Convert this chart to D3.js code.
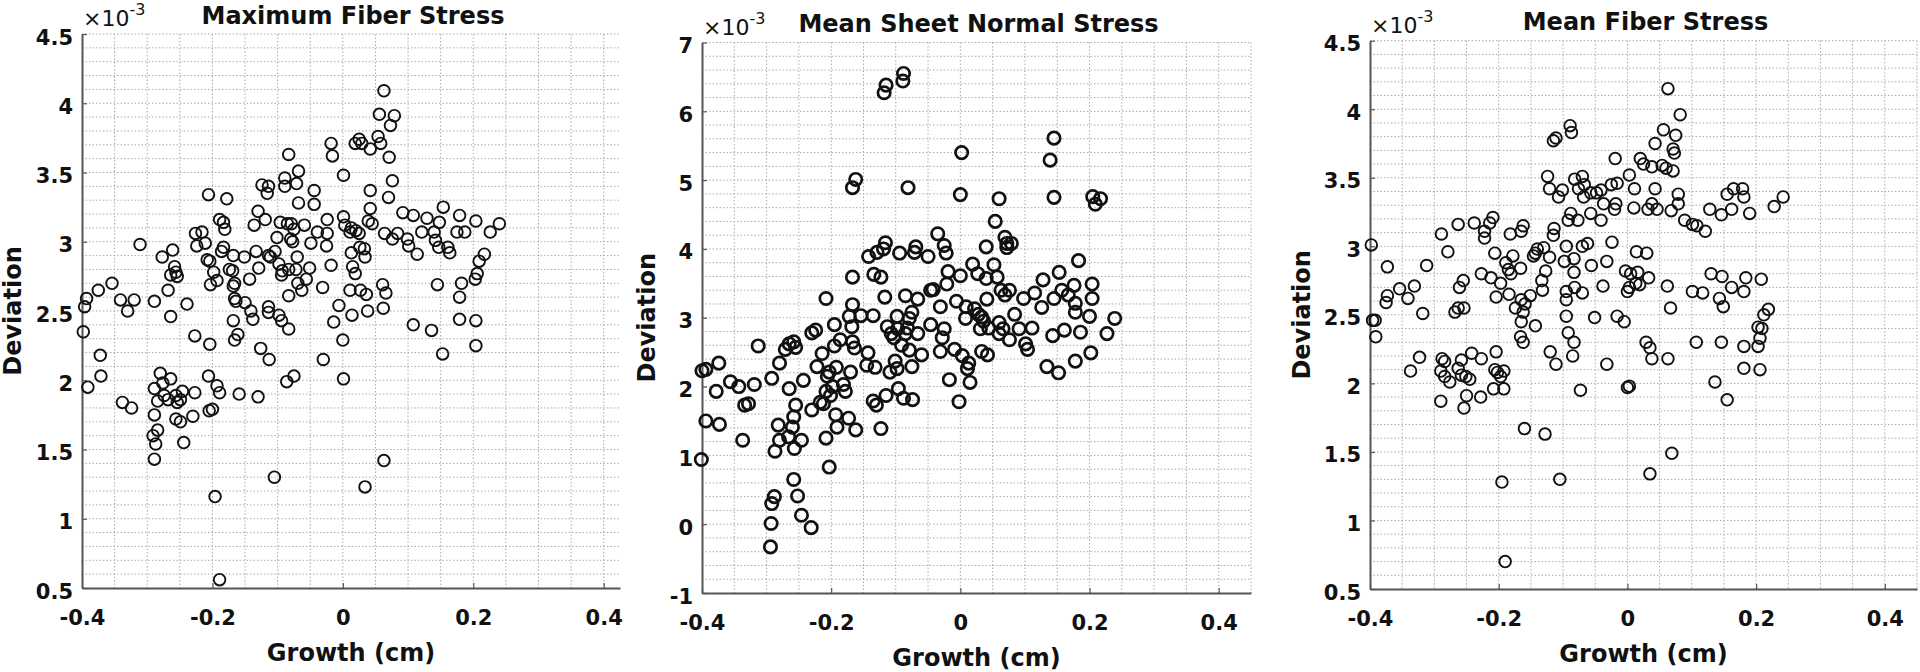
<!DOCTYPE html>
<html>
<head>
<meta charset="utf-8">
<script src="https://cdn.jsdelivr.net/npm/d3@7"></script>
<style>
    body { margin: 0; background: #fff; }
    svg text { font-family: "DejaVu Sans", sans-serif; fill: #111; }
</style>
</head>
<body>
<div id="chart"></div>
<script>

// growth (cm) vs deviation (x1e-3)
const maxFiberPts = [
    [0.063,4.09],[0.056,3.92],[0.079,3.91],[0.073,3.84],[0.054,3.76],[0.058,3.71],[0.071,3.61],[0.076,3.44],
    [-0.018,3.71],[-0.016,3.62],[0.019,3.71],[0.025,3.74],[0.029,3.71],[0.042,3.67],[0.001,3.48],
    [-0.083,3.63],[-0.068,3.51],[-0.089,3.46],[-0.071,3.42],[-0.089,3.40],[-0.124,3.41],[-0.114,3.40],[-0.116,3.35],
    [-0.044,3.37],[0.042,3.37],[-0.206,3.34],[-0.178,3.31],[-0.130,3.22],[-0.044,3.27],[-0.068,3.28],[0.042,3.24],
    [0.070,3.32],[0.154,3.25],[0.092,3.21],[0.108,3.19],[0.179,3.19],[0.129,3.17],[0.204,3.15],[0.240,3.13],
    [0.148,3.14],[0.039,3.15],[0.045,3.13],[-0.024,3.16],[0.001,3.18],[0.003,3.12],[0.013,3.10],[0.011,3.07],
    [0.020,3.08],[0.025,3.06],[-0.189,3.16],[-0.183,3.14],[-0.181,3.09],[-0.136,3.12],[-0.119,3.16],[-0.096,3.14],
    [-0.085,3.13],[-0.079,3.13],[-0.059,3.12],[-0.075,3.09],[-0.080,3.02],[-0.077,3.00],[-0.039,3.07],[-0.024,3.06],
    [-0.025,2.97],[-0.049,2.99],[-0.101,3.03],[-0.104,2.93],[-0.133,2.93],[-0.114,2.90],[-0.226,3.06],[-0.216,3.07],
    [-0.224,2.97],[-0.211,2.99],[-0.183,2.96],[-0.186,2.93],[-0.168,2.90],[-0.151,2.89],[-0.311,2.98],[-0.261,2.94],
    [-0.277,2.89],[-0.208,2.87],[-0.204,2.86],[-0.174,2.80],[-0.169,2.79],[-0.166,2.70],[-0.168,2.68],[-0.258,2.82],
    [-0.256,2.78],[-0.264,2.76],[-0.268,2.65],[-0.254,2.75],[-0.193,2.72],[-0.203,2.69],[-0.143,2.73],[-0.129,2.81],
    [-0.111,2.89],[-0.098,2.84],[-0.093,2.79],[-0.094,2.76],[-0.083,2.80],[-0.070,2.89],[-0.072,2.80],[-0.069,2.70],
    [-0.063,2.65],[-0.056,2.73],[-0.051,2.81],[-0.018,2.83],[-0.031,2.67],[-0.083,2.61],[0.013,2.92],[0.015,2.82],
    [0.019,2.77],[0.011,2.65],[0.026,2.96],[0.033,2.95],[0.034,2.89],[0.027,2.65],[0.036,2.62],[0.038,2.50],
    [0.014,2.47],[-0.006,2.54],[-0.014,2.42],[0.000,2.29],[-0.030,2.15],[0.001,2.01],[0.061,2.69],[0.066,2.63],
    [0.062,2.52],[0.064,3.06],[0.076,3.02],[0.084,3.06],[0.099,3.02],[0.101,2.97],[0.114,2.91],[0.121,3.07],
    [0.140,3.07],[0.142,3.01],[0.147,2.96],[0.161,2.96],[0.164,2.92],[0.175,3.07],[0.187,3.07],[0.226,3.07],
    [0.217,2.91],[0.209,2.86],[0.206,2.77],[0.203,2.73],[0.182,2.70],[0.179,2.60],[0.145,2.69],[0.179,2.44],
    [0.204,2.43],[0.108,2.40],[0.136,2.36],[0.204,2.25],[0.153,2.19],[0.063,1.42],[0.034,1.23],[-0.105,1.30],
    [-0.196,1.16],[-0.189,0.56],
    [-0.354,2.70],[-0.375,2.65],[-0.393,2.59],[-0.396,2.53],[-0.341,2.58],[-0.330,2.50],[-0.320,2.58],[-0.289,2.57],
    [-0.264,2.46],[-0.239,2.55],[-0.398,2.35],[-0.372,2.18],[-0.371,2.03],[-0.391,1.95],[-0.338,1.84],[-0.324,1.80],
    [-0.280,2.05],[-0.264,2.01],[-0.276,1.98],[-0.289,1.94],[-0.284,1.85],[-0.274,1.89],[-0.268,1.86],[-0.256,1.89],
    [-0.254,1.84],[-0.246,1.92],[-0.249,1.86],[-0.227,1.91],[-0.289,1.75],[-0.256,1.72],[-0.249,1.70],[-0.230,1.74],
    [-0.284,1.64],[-0.291,1.60],[-0.287,1.54],[-0.244,1.55],[-0.289,1.43],[-0.206,2.03],[-0.193,1.96],[-0.189,1.91],
    [-0.205,1.78],[-0.200,1.79],[-0.159,1.90],[-0.130,1.88],[-0.075,2.03],[-0.086,1.99],[-0.227,2.32],[-0.204,2.26],
    [-0.168,2.43],[-0.166,2.29],[-0.161,2.33],[-0.141,2.50],[-0.138,2.44],[-0.114,2.53],[-0.114,2.49],[-0.126,2.23],
    [-0.113,2.15],[-0.098,2.47],[-0.094,2.43],[-0.083,2.37],[-0.166,2.59],[-0.164,2.57],[-0.198,2.78],[-0.150,2.56]
];

const sheetNormalPts = [
    [-0.088,6.55],[-0.089,6.44],[-0.115,6.38],[-0.118,6.27],[0.145,5.61],[0.002,5.40],[0.139,5.29],[-0.162,5.01],
    [-0.167,4.89],[-0.081,4.89],[0.000,4.79],[0.145,4.75],[0.205,4.76],[0.217,4.73],[0.209,4.65],[0.060,4.73],
    [0.054,4.40],[0.069,4.17],[0.072,4.08],[0.079,4.08],[0.072,4.02],[-0.035,4.22],[-0.025,4.05],[-0.022,3.94],
    [0.040,4.03],[-0.116,4.09],[-0.119,4.00],[-0.129,3.95],[-0.142,3.89],[-0.094,3.94],[-0.069,4.03],[-0.071,3.95],
    [-0.050,3.89],[-0.019,3.67],[0.000,3.61],[0.019,3.78],[0.027,3.64],[0.052,3.77],[0.040,3.57],[0.057,3.59],
    [-0.167,3.59],[-0.134,3.63],[-0.123,3.59],[-0.208,3.28],[-0.167,3.19],[-0.117,3.30],[-0.085,3.32],[-0.066,3.27],
    [-0.046,3.40],[-0.042,3.41],[-0.031,3.16],[-0.021,3.49],[-0.006,3.24],[0.009,3.16],[0.008,2.99],[0.022,3.13],
    [0.028,3.05],[0.033,3.01],[0.036,2.95],[0.041,3.27],[0.031,2.84],[0.044,2.85],[0.063,3.40],[0.076,3.40],
    [0.069,3.33],[0.060,2.93],[0.066,2.84],[0.060,2.77],[0.076,2.68],[0.084,3.05],[0.098,3.28],[0.091,2.84],
    [0.101,2.62],[0.104,2.54],[0.115,3.36],[0.111,2.85],[0.126,3.15],[0.128,3.55],[0.153,3.66],[0.145,3.28],
    [0.157,3.40],[0.167,3.33],[0.176,3.47],[0.178,3.21],[0.178,3.08],[0.204,3.49],[0.204,3.28],[0.200,3.02],
    [0.183,3.83],[0.239,2.99],[0.227,2.77],[0.186,2.79],[0.161,2.82],[0.143,2.74],[0.202,2.49],[0.134,2.29],
    [0.152,2.20],[0.178,2.37],[0.042,2.46],[0.033,2.51],[-0.009,2.54],[0.003,2.45],[0.013,2.34],[0.011,2.26],
    [0.015,2.06],[-0.017,2.10],[-0.002,1.78],[-0.025,2.84],[-0.028,2.71],[-0.031,2.51],[-0.046,2.90],[-0.060,2.46],
    [-0.066,2.77],[-0.075,3.08],[-0.079,2.99],[-0.082,2.85],[-0.085,2.77],[-0.079,2.53],[-0.075,2.29],[-0.091,2.60],
    [-0.098,3.02],[-0.097,2.84],[-0.103,2.71],[-0.107,2.77],[-0.113,2.87],[-0.101,2.37],[-0.098,2.26],[-0.109,2.21],
    [-0.096,1.97],[-0.088,1.83],[-0.074,1.81],[-0.115,1.87],[-0.135,1.79],[-0.130,1.73],[-0.123,1.39],[-0.132,2.28],
    [-0.145,2.31],[-0.143,2.49],[-0.135,3.03],[-0.154,3.03],[-0.172,3.02],[-0.168,2.87],[-0.167,2.65],[-0.164,2.56],
    [-0.170,2.21],[-0.173,1.54],[-0.162,1.37],[-0.186,2.68],[-0.195,2.90],[-0.195,2.59],[-0.181,2.03],[-0.178,1.93],
    [-0.192,2.28],[-0.198,2.00],[-0.203,2.21],[-0.201,1.87],[-0.208,1.93],[-0.206,2.15],[-0.212,1.75],[-0.214,2.48],
    [-0.193,1.59],[-0.191,1.41],[-0.208,1.25],[-0.203,0.83],[-0.222,2.29],[-0.224,2.82],[-0.230,2.78],[-0.230,1.66],
    [-0.217,1.77],[-0.243,2.09],[-0.255,1.73],[-0.258,1.56],[-0.260,1.41],[-0.246,1.22],[-0.257,1.10],[-0.266,1.27],
    [-0.280,1.22],[-0.282,1.44],[-0.287,1.06],[-0.265,1.97],[-0.280,2.34],[-0.292,2.12],[-0.271,2.54],[-0.265,2.62],
    [-0.258,2.65],[-0.255,2.57],[-0.313,2.59],[-0.258,0.65],[-0.252,0.41],[-0.246,0.13],[-0.231,-0.05],[-0.288,0.40],
    [-0.292,0.30],[-0.293,0.01],[-0.294,-0.33],[-0.337,1.22],[-0.334,1.73],[-0.328,1.75],[-0.343,2.00],[-0.319,2.03],
    [-0.356,2.07],[-0.374,2.34],[-0.378,1.93],[-0.394,1.50],[-0.373,1.45],[-0.401,0.94],[-0.400,2.23],[-0.394,2.25]
];

const meanFiberPts = [
    [0.063,4.15],[0.082,3.96],[0.056,3.85],[0.075,3.81],[0.043,3.75],[0.071,3.71],[0.073,3.68],[-0.089,3.88],
    [-0.087,3.83],[-0.115,3.77],[-0.111,3.79],[-0.019,3.64],[0.020,3.64],[0.025,3.60],[0.038,3.58],[0.054,3.59],
    [0.060,3.57],[0.071,3.55],[0.003,3.52],[-0.124,3.51],[-0.070,3.51],[-0.082,3.49],[-0.121,3.42],[-0.101,3.41],
    [-0.107,3.36],[-0.076,3.42],[-0.067,3.45],[-0.068,3.36],[-0.057,3.39],[-0.048,3.39],[-0.041,3.41],[-0.025,3.45],
    [-0.016,3.46],[0.011,3.42],[0.043,3.42],[0.079,3.38],[0.155,3.38],[0.165,3.42],[0.179,3.42],[0.181,3.36],
    [0.242,3.36],[0.228,3.29],[0.162,3.27],[0.146,3.23],[0.128,3.27],[0.190,3.24],[0.101,3.16],[0.108,3.15],
    [0.121,3.11],[0.089,3.19],[0.079,3.31],[0.068,3.26],[0.038,3.31],[0.032,3.27],[0.046,3.27],[0.010,3.28],
    [-0.018,3.31],[-0.020,3.27],[-0.037,3.31],[-0.041,3.19],[-0.057,3.24],[-0.088,3.24],[-0.092,3.19],[-0.077,3.19],
    [-0.114,3.13],[-0.115,3.08],[-0.162,3.15],[-0.165,3.11],[-0.182,3.09],[-0.209,3.21],[-0.214,3.17],[-0.238,3.17],
    [-0.222,3.11],[-0.222,3.06],[-0.263,3.16],[-0.289,3.09],[-0.279,2.96],[-0.398,3.01],[-0.373,2.85],[-0.312,2.86],
    [-0.354,2.69],[-0.373,2.64],[-0.375,2.59],[-0.341,2.62],[-0.331,2.71],[-0.318,2.51],[-0.396,2.46],[-0.392,2.46],
    [-0.391,2.34],[-0.206,2.95],[-0.178,2.93],[-0.189,2.88],[-0.185,2.83],[-0.181,2.80],[-0.166,2.84],[-0.197,2.73],
    [-0.204,2.63],[-0.227,2.80],[-0.212,2.77],[-0.184,2.65],[-0.255,2.75],[-0.261,2.70],[-0.263,2.55],[-0.254,2.55],
    [-0.268,2.52],[-0.174,2.55],[-0.165,2.61],[-0.162,2.52],[-0.165,2.45],[-0.166,2.34],[-0.162,2.30],[-0.151,2.64],
    [-0.143,2.42],[-0.143,2.95],[-0.146,2.93],[-0.140,2.98],[-0.130,2.99],[-0.121,2.92],[-0.127,2.82],[-0.133,2.75],
    [-0.132,2.68],[-0.095,3.00],[-0.098,2.89],[-0.083,2.91],[-0.083,2.81],[-0.070,3.00],[-0.062,3.02],[-0.056,2.86],
    [-0.095,2.67],[-0.082,2.70],[-0.070,2.66],[-0.095,2.61],[-0.095,2.49],[-0.092,2.37],[-0.083,2.30],[-0.085,2.20],
    [-0.038,2.71],[-0.051,2.48],[-0.032,2.89],[-0.024,3.03],[0.014,2.96],[0.030,2.95],[-0.003,2.82],[0.005,2.80],
    [0.016,2.81],[0.013,2.73],[0.019,2.72],[0.003,2.70],[0.000,2.67],[0.033,2.77],[0.062,2.71],[0.067,2.55],
    [-0.016,2.49],[-0.005,2.45],[0.029,2.30],[0.035,2.26],[0.038,2.18],[0.063,2.18],[-0.032,2.14],[0.000,1.97],
    [0.003,1.98],[0.101,2.67],[0.117,2.66],[0.107,2.30],[0.130,2.80],[0.147,2.78],[0.143,2.62],[0.149,2.56],
    [0.162,2.70],[0.184,2.77],[0.181,2.67],[0.208,2.76],[0.219,2.54],[0.212,2.50],[0.203,2.41],[0.209,2.40],
    [0.206,2.33],[0.203,2.27],[0.146,2.30],[0.181,2.27],[0.181,2.11],[0.206,2.10],[0.136,2.01],[0.155,1.88],
    [0.069,1.49],[0.035,1.34],[-0.105,1.30],[-0.195,1.28],[-0.190,0.70],[-0.160,1.67],[-0.128,1.63],
    [-0.323,2.19],[-0.337,2.09],[-0.288,2.18],[-0.284,2.16],[-0.290,2.09],[-0.284,2.05],[-0.276,2.01],[-0.290,1.87],
    [-0.258,2.17],[-0.263,2.11],[-0.258,2.06],[-0.251,2.05],[-0.245,2.03],[-0.242,2.22],[-0.227,2.18],[-0.250,1.91],
    [-0.254,1.82],[-0.228,1.90],[-0.204,2.23],[-0.206,2.10],[-0.202,2.08],[-0.192,2.09],[-0.197,2.05],[-0.208,1.96],
    [-0.192,1.96],[-0.159,2.58],[-0.120,2.23],[-0.111,2.14],[-0.073,1.95]
];

const titles = ["Maximum Fiber Stress", "Mean Sheet Normal Stress", "Mean Fiber Stress"];
const xTickVals = [-0.4, -0.2, 0, 0.2, 0.4];
const yTickSets = [
    [0.5, 1, 1.5, 2, 2.5, 3, 3.5, 4, 4.5],
    [-1, 0, 1, 2, 3, 4, 5, 6, 7],
    [0.5, 1, 1.5, 2, 2.5, 3, 3.5, 4, 4.5]
];


class ScatterPanel {

    constructor(svg, points, cfg) {
        this.svg = svg;
        this.points = points;
        this.cfg = cfg;
        this.initVis();
    }

    initVis() {
        let vis = this;
        let c = vis.cfg;

        vis.g = vis.svg.append("g");

        vis.x = d3.scaleLinear().domain([-0.4, c.xMax]).range([c.left, c.right]);
        vis.y = d3.scaleLinear().domain([c.yMin, c.yMax]).range([c.bottom, c.top]);

        // dotted grid, minor + major
        let nx = Math.round((c.xMax + 0.4) / 0.05);
        let xGrid = d3.range(1, nx + 1).map(i => -0.4 + i * 0.05);
        let ny = Math.round((c.yMax - c.yMin) / c.yMinor);
        let yGrid = d3.range(1, ny + 1).map(i => c.yMin + i * c.yMinor);

        vis.g.selectAll(".vgrid").data(xGrid).enter().append("line")
            .attr("x1", d => vis.x(d)).attr("x2", d => vis.x(d))
            .attr("y1", c.top).attr("y2", c.bottom)
            .attr("stroke", "#aaa").attr("stroke-width", 1)
            .attr("stroke-dasharray", "1.5,2");

        vis.g.selectAll(".hgrid").data(yGrid).enter().append("line")
            .attr("x1", c.left).attr("x2", c.right)
            .attr("y1", d => vis.y(d)).attr("y2", d => vis.y(d))
            .attr("stroke", "#aaa").attr("stroke-width", 1)
            .attr("stroke-dasharray", "1.5,2");

        // axes, ticks pointing inward
        let fmt = d => String(+d.toFixed(1));

        let xAxis = vis.g.append("g")
            .attr("transform", "translate(0," + c.bottom + ")")
            .call(d3.axisBottom(vis.x).tickValues(xTickVals).tickFormat(fmt)
                .tickSizeInner(-5).tickSizeOuter(0).tickPadding(22));

        let yAxis = vis.g.append("g")
            .attr("transform", "translate(" + c.left + ",0)")
            .call(d3.axisLeft(vis.y).tickValues(c.yTicks).tickFormat(fmt)
                .tickSizeInner(-5).tickSizeOuter(0).tickPadding(9));

        [xAxis, yAxis].forEach(a => {
            a.attr("font-family", null).attr("font-size", null).attr("color", "#555");
            a.select(".domain").attr("stroke-width", 2);
            a.selectAll(".tick line").attr("stroke-width", 1.2);
            a.selectAll("text")
                .attr("font-size", 21)
                .attr("font-weight", "bold")
                .style("fill", "#111");
        });
        yAxis.selectAll("text").attr("dy", 10);

        // markers
        vis.g.selectAll(".pt").data(vis.points).enter().append("circle")
            .attr("cx", d => vis.x(d[0]))
            .attr("cy", d => vis.y(d[1]))
            .attr("r", c.r)
            .attr("fill", "none")
            .attr("stroke", "#111")
            .attr("stroke-width", c.sw);

        // title
        vis.g.append("text")
            .attr("x", (c.left + c.right) / 2 + 2)
            .attr("y", c.top - 10.5)
            .attr("text-anchor", "middle")
            .attr("font-size", 24)
            .attr("font-weight", "bold")
            .text(c.title);

        // exponent label
        let ex = vis.g.append("text")
            .attr("x", c.left + 1)
            .attr("y", c.top - 8)
            .attr("font-size", 22);
        ex.append("tspan").text("\u00d710");
        ex.append("tspan").attr("font-size", 16).attr("dy", -11).text("-3");

        // axis labels
        vis.g.append("text")
            .attr("x", (c.left + c.right) / 2)
            .attr("y", c.bottom + 73)
            .attr("text-anchor", "middle")
            .attr("font-size", 24)
            .attr("font-weight", "bold")
            .text("Growth (cm)");

        vis.g.append("text")
            .attr("transform", "translate(" + (c.left - c.ylabGap) + "," + ((c.top + c.bottom) / 2) + ") rotate(-90)")
            .attr("text-anchor", "middle")
            .attr("font-size", 24)
            .attr("font-weight", "bold")
            .text("Deviation");
    }
}

let svg = d3.select("#chart").append("svg")
    .attr("width", 1920)
    .attr("height", 672);

new ScatterPanel(svg, maxFiberPts, {
    title: titles[0], left: 82, right: 620, top: 34, bottom: 588,
    xMax: 0.425, yMin: 0.5, yMax: 4.5, yMinor: 0.1, yTicks: yTickSets[0],
    ylabGap: 61, r: 5.8, sw: 1.9
});

new ScatterPanel(svg, sheetNormalPts, {
    title: titles[1], left: 702, right: 1251, top: 42.5, bottom: 593,
    xMax: 0.45, yMin: -1, yMax: 7, yMinor: 0.2, yTicks: yTickSets[1],
    ylabGap: 47, r: 6.2, sw: 2.7
});

new ScatterPanel(svg, meanFiberPts, {
    title: titles[2], left: 1370, right: 1917, top: 40.7, bottom: 589,
    xMax: 0.45, yMin: 0.5, yMax: 4.5, yMinor: 0.1, yTicks: yTickSets[2],
    ylabGap: 60, r: 5.8, sw: 1.9
});

</script>
</body>
</html>
